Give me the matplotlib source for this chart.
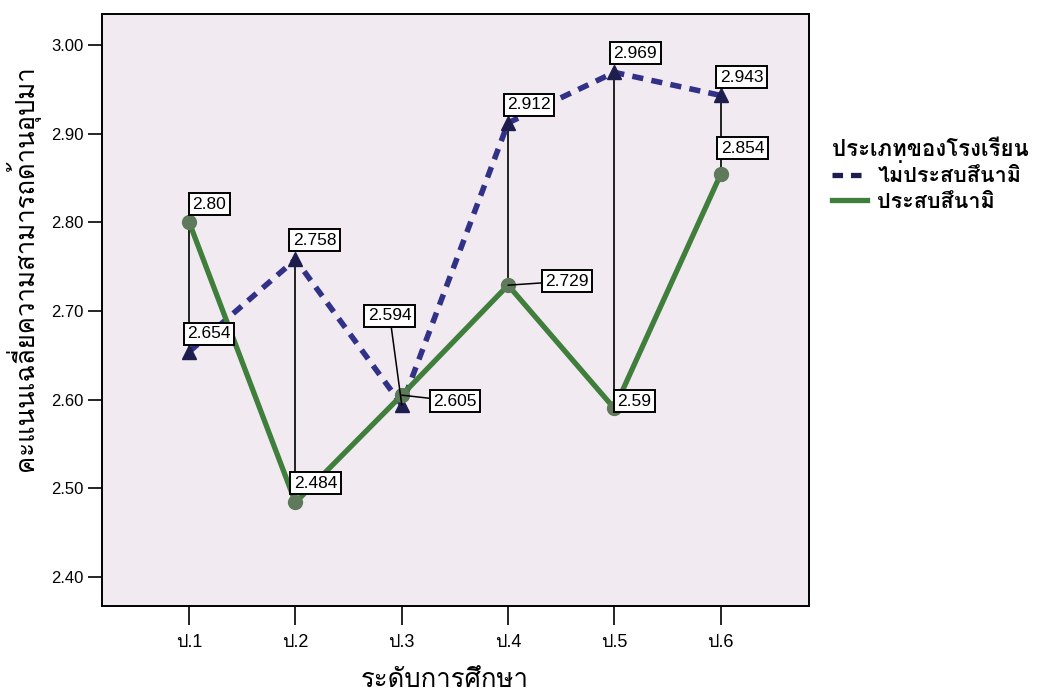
import matplotlib
matplotlib.use("Agg")
import matplotlib.pyplot as plt
from matplotlib import font_manager
from matplotlib.ft2font import FT2Font


# data
categories = ["ป.1", "ป.2", "ป.3", "ป.4", "ป.5", "ป.6"]
not_hit = [2.654, 2.758, 2.594, 2.912, 2.969, 2.943]      # ไม่ประสบสึนามิ
hit = [2.800, 2.484, 2.605, 2.729, 2.590, 2.854]          # ประสบสึนามิ
not_hit_labels = ["2.654", "2.758", "2.594", "2.912", "2.969", "2.943"]
hit_labels = ["2.80", "2.484", "2.605", "2.729", "2.59", "2.854"]
y_ticks = [2.40, 2.50, 2.60, 2.70, 2.80, 2.90, 3.00]

# label box offsets from their point, in pixels
not_hit_offsets = [(20, 18), (19, 19), (-12, 89), (21, 18), (21, 19), (21, 18)]
hit_offsets = [(20, 18), (20, 19), (53, -6), (59, 4), (20, 7), (22, 26)]
# which labels get a leader line back to the point
not_hit_leader = [False, False, True, False, False, False]
hit_leader = [False, False, True, True, True, False]


def find_thai_font():
    """
    first installed font that has thai glyphs
    """
    for f in font_manager.fontManager.ttflist:
        try:
            if ord("ก") in FT2Font(f.fname).get_charmap():
                return f.name
        except Exception:
            continue
    return None


thai = find_thai_font()
families = ["Liberation Sans"] + ([thai] if thai else []) + ["DejaVu Sans"]
plt.rcParams["font.family"] = families

NAVY = "#313187"
GREEN = "#3F7E3B"

fig = plt.figure(figsize=(10.41, 6.92), dpi=100)
ax = fig.add_axes([0.098, 0.124, 0.679, 0.856])
ax.set_facecolor("#F1EAF1")

x = list(range(len(categories)))

# the thin black drop lines between the two groups
drop_x = [i for i in x if i != 2]
ax.vlines(drop_x, [min(not_hit[i], hit[i]) for i in drop_x],
          [max(not_hit[i], hit[i]) for i in drop_x],
          color="black", lw=1.2, zorder=2)

ax.plot(x, not_hit, color=NAVY, lw=4, ls=(0, (2.0, 1.5)), marker="^",
        markersize=10, markerfacecolor="#1E1E4E", markeredgecolor="#1E1E4E",
        zorder=3, label="ไม่ประสบสึนามิ")
ax.plot(x, hit, color=GREEN, lw=3.8, marker="o", markersize=10,
        markerfacecolor="#5E7A5A", markeredgecolor="#5E7A5A",
        zorder=4, label="ประสบสึนามิ")


def add_labels(vals, texts, offsets, leaders):
    for i, (v, t, off, lead) in enumerate(zip(vals, texts, offsets, leaders)):
        arrow = None
        if lead:
            arrow = dict(arrowstyle="-", color="black", lw=1.1,
                         shrinkA=0, shrinkB=0)
        ax.annotate(t, xy=(i, v), xytext=off, textcoords="offset pixels",
                    ha="center", va="center", fontsize=12.5,
                    bbox=dict(boxstyle="square,pad=0.2", fc="white",
                              ec="black", lw=1.4),
                    arrowprops=arrow, zorder=6)


add_labels(not_hit, not_hit_labels, not_hit_offsets, not_hit_leader)
add_labels(hit, hit_labels, hit_offsets, hit_leader)

ax.set_xlim(-0.82, 5.83)
ax.set_ylim(2.367, 3.035)
ax.set_xticks(x)
ax.set_xticklabels(categories, fontsize=13)
ax.set_yticks(y_ticks)
ax.set_yticklabels([f"{t:.2f}" for t in y_ticks], fontsize=12)
ax.tick_params(axis="x", length=14, width=1.2, pad=6)
ax.tick_params(axis="y", length=10, width=1.2, pad=3)
for s in ax.spines.values():
    s.set_linewidth(1.4)
    s.set_color("black")

ax.set_xlabel("ระดับการศึกษา", fontsize=18.5)
ax.set_ylabel("คะแนนเฉลี่ยความสามารถด้านอุปมา", fontsize=18.5)
ax.xaxis.set_label_coords(0.485, -0.105)
ax.yaxis.set_label_coords(-0.088, 0.571)

leg = fig.legend(loc="upper left", bbox_to_anchor=(0.785, 0.82),
                 frameon=False, title="ประเภทของโรงเรียน",
                 fontsize=15.5, title_fontsize=16, handlelength=1.6,
                 handletextpad=0.5, labelspacing=0.22, borderpad=0.2,
                 alignment="left")
for h in leg.legend_handles:
    h.set_marker("")
    h.set_linewidth(3.8)
leg.legend_handles[0].set_color("#1E1E4E")
leg.get_title().set_fontweight("bold")
for t in leg.get_texts():
    t.set_fontweight("bold")

fig.savefig("out.png", dpi=100)
